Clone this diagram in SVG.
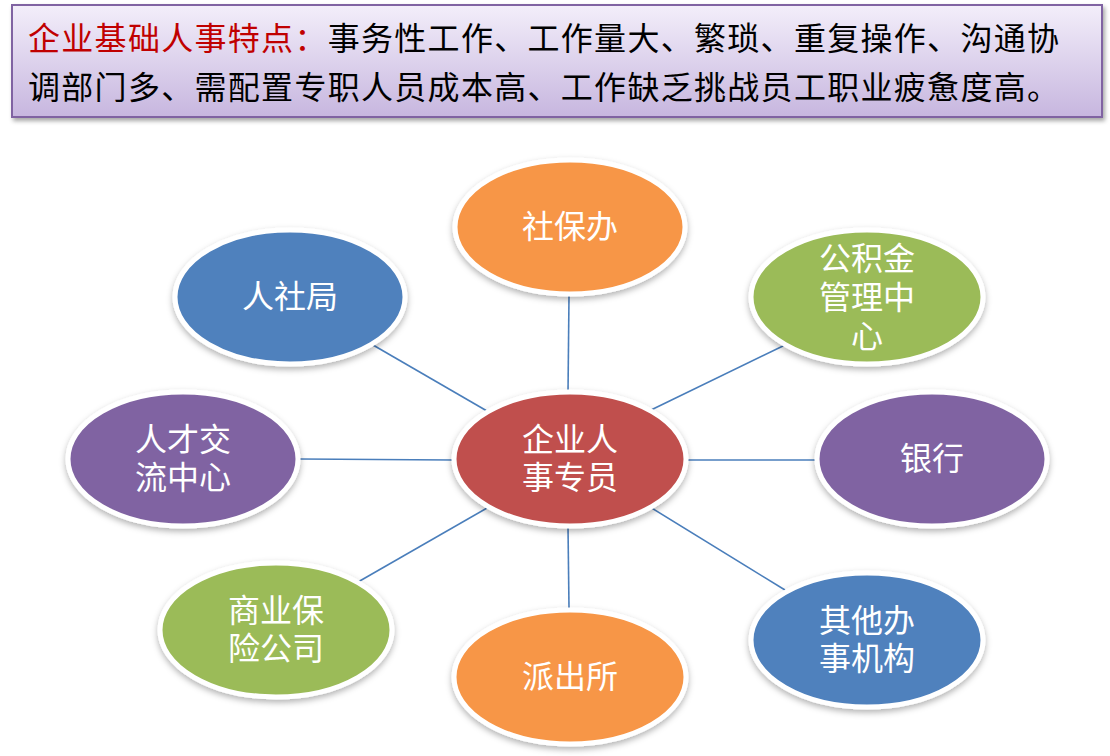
<svg xmlns="http://www.w3.org/2000/svg" width="1110" height="756" viewBox="0 0 1110 756">
<defs>
<linearGradient id="hdr" x1="0" y1="0" x2="0" y2="1">
<stop offset="0" stop-color="#f3eefa"/>
<stop offset="1" stop-color="#c7b6df"/>
</linearGradient>
<filter id="sh" x="-20%" y="-20%" width="140%" height="150%">
<feDropShadow dx="0" dy="3" stdDeviation="3" flood-color="#000" flood-opacity="0.3"/>
</filter>
<filter id="hsh" x="-5%" y="-20%" width="110%" height="150%">
<feDropShadow dx="2" dy="3" stdDeviation="2" flood-color="#000" flood-opacity="0.35"/>
</filter>
</defs>
<style>
.node{stroke:#ffffff;stroke-width:5;filter:url(#sh);}
.blue{fill:#4f81bd;}
.orange{fill:#f79646;}
.green{fill:#9bbb59;}
.purple{fill:#8064a2;}
.red{fill:#c0504d;}
.lbl{font-family:"Noto Sans CJK SC","Noto Sans",sans-serif;font-size:32px;fill:#ffffff;text-anchor:middle;}
.hd{font-family:"Noto Sans CJK SC","Noto Sans",sans-serif;font-size:32px;letter-spacing:1.3px;fill:#000000;}
.conn line{stroke:#4a7ebb;stroke-width:1.6;}
</style>
<rect width="1110" height="756" fill="#ffffff"/>
<g id="header">
<rect x="12" y="5" width="1090" height="112" fill="url(#hdr)" stroke="#8064a2" stroke-width="2" filter="url(#hsh)"/>
<text class="hd" x="28" y="50"><tspan fill="#c00000">企业基础人事特点：</tspan>事务性工作、工作量大、繁琐、重复操作、沟通协</text>
<text class="hd" x="28" y="99">调部门多、需配置专职人员成本高、工作缺乏挑战员工职业疲惫度高。</text>
</g>
<g id="connectors" class="conn">
<line x1="569" y1="296" x2="568" y2="393"/>
<line x1="373" y1="345" x2="487" y2="411"/>
<line x1="785" y1="345" x2="651" y2="410"/>
<line x1="300" y1="459" x2="452" y2="460"/>
<line x1="688" y1="460" x2="816" y2="460"/>
<line x1="358" y1="582" x2="487" y2="508"/>
<line x1="568" y1="527" x2="569" y2="608"/>
<line x1="650" y1="507" x2="785" y2="590"/>
</g>
<g id="n-shebaoban">
<ellipse class="node orange" cx="570" cy="227" rx="115" ry="67"/>
<text class="lbl" x="570" y="238">社保办</text>
</g>
<g id="n-rensheju">
<ellipse class="node blue" cx="290" cy="297" rx="115" ry="67"/>
<text class="lbl" x="290" y="308">人社局</text>
</g>
<g id="n-gongjijin">
<ellipse class="node green" cx="867" cy="297" rx="116" ry="67"/>
<text class="lbl" x="867" y="270"><tspan x="867">公积金</tspan><tspan x="867" dy="39">管理中</tspan><tspan x="867" dy="39">心</tspan></text>
</g>
<g id="n-rencai">
<ellipse class="node purple" cx="183" cy="459" rx="115" ry="67"/>
<text class="lbl" x="183" y="451"><tspan x="183">人才交</tspan><tspan x="183" dy="38">流中心</tspan></text>
</g>
<g id="n-center">
<ellipse class="node red" cx="570" cy="459" rx="116" ry="67"/>
<text class="lbl" x="570" y="451"><tspan x="570">企业人</tspan><tspan x="570" dy="38">事专员</tspan></text>
</g>
<g id="n-yinhang">
<ellipse class="node purple" cx="932" cy="459" rx="115" ry="67"/>
<text class="lbl" x="932" y="470">银行</text>
</g>
<g id="n-shangye">
<ellipse class="node green" cx="276" cy="630" rx="116" ry="67"/>
<text class="lbl" x="276" y="622"><tspan x="276">商业保</tspan><tspan x="276" dy="38">险公司</tspan></text>
</g>
<g id="n-paichusuo">
<ellipse class="node orange" cx="570" cy="677" rx="116" ry="67"/>
<text class="lbl" x="570" y="688">派出所</text>
</g>
<g id="n-qita">
<ellipse class="node blue" cx="867" cy="640" rx="116" ry="67"/>
<text class="lbl" x="867" y="632"><tspan x="867">其他办</tspan><tspan x="867" dy="38">事机构</tspan></text>
</g>
</svg>
